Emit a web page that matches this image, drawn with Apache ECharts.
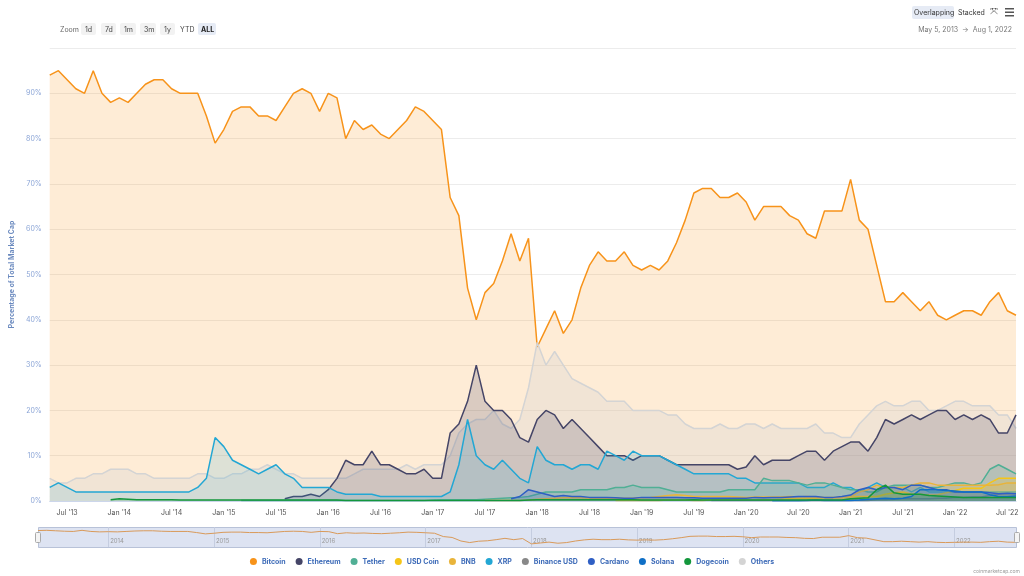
<!DOCTYPE html>
<html>
<head>
<meta charset="utf-8">
<script src="https://cdn.jsdelivr.net/npm/echarts@6/dist/echarts.min.js"></script>
<style>
  html, body { margin: 0; padding: 0; background: #fff; }
  #chart { width: 1024px; height: 576px; }
</style>
</head>
<body>
<div id="chart"></div>
<script>
// months May 2013 .. Aug 2022
var months = [];
for (var y = 2013; y <= 2022; y++) {
    for (var m = 1; m <= 12; m++) {
        if (y === 2013 && m < 5) continue;
        if (y === 2022 && m > 8) break;
        months.push(y + '-' + (m < 10 ? '0' + m : m));
    }
}
var monthNames = ['Jan', 'Feb', 'Mar', 'Apr', 'May', 'Jun', 'Jul', 'Aug', 'Sep', 'Oct', 'Nov', 'Dec'];

var bitcoin = [
    94, 95, 93, 91, 90, 95, 90, 88,
    89, 88, 90, 92, 93, 93, 91, 90, 90, 90, 85, 79,
    82, 86, 87, 87, 85, 85, 84, 87, 90, 91, 90, 86,
    90, 89, 80, 84, 82, 83, 81, 80, 82, 84, 87, 86,
    84, 82, 67, 63, 47, 40, 46, 48, 53, 59, 53, 58,
    34, 38, 42, 37, 40, 47, 52, 55, 53, 53, 55, 52,
    51, 52, 51, 53, 57, 62, 68, 69, 69, 67, 67, 68,
    66, 62, 65, 65, 65, 63, 62, 59, 58, 64, 64, 64,
    71, 62, 60, 52, 44, 44, 46, 44, 42, 44, 41, 40,
    41, 42, 42, 41, 44, 46, 42, 41
];
var ethereumStart = '2015-08';
var ethereum = [
    0.5, 1, 1, 1.5, 1,
    2.5, 5, 9, 8, 8, 11, 8, 8, 7, 6, 6, 7,
    5, 5, 15, 17, 22, 30, 22, 20, 20, 18, 14, 13,
    18, 20, 19, 16, 18, 16, 14, 12, 10, 10, 10, 9,
    10, 10, 10, 9, 8, 8, 8, 8, 8, 8, 8, 7,
    7.5, 10, 8, 9, 9, 9, 10, 11, 11, 9, 11, 12,
    13, 13, 11, 14, 18, 17, 18, 19, 18, 19, 20, 20,
    18, 19, 18, 19, 18, 15, 15, 19
];
var xrp = [
    3, 4, 3, 2, 2, 2, 2, 2,
    2, 2, 2, 2, 2, 2, 2, 2, 2, 3, 5, 14,
    12, 9, 8, 7, 6, 7, 8, 6, 5, 3, 3, 3,
    3, 2, 1.5, 1.5, 1.5, 1.5, 1, 1, 1, 1, 1, 1,
    1, 1, 2, 8, 18, 10, 8, 7, 9, 7, 5, 4,
    12, 9, 8, 8, 7, 8, 8, 7, 11, 10, 9, 11,
    10, 10, 10, 9, 8, 7, 6, 6, 6, 6, 6, 5,
    5, 4, 4, 4, 4, 4, 4, 3, 3, 3, 4, 3,
    3, 2, 3, 4, 3, 3, 3, 2, 3, 2, 2, 2,
    2, 2, 2, 2, 2, 2, 2, 2
];
var tetherStart = '2015-03';
var tether = [
    0.1, 0.1, 0.1, 0.1, 0.1, 0.1, 0.1, 0.1, 0.1, 0.1,
    0.1, 0.1, 0.1, 0.1, 0.1, 0.1, 0.1, 0.1, 0.1, 0.1, 0.1, 0.1,
    0.2, 0.3, 0.3, 0.3, 0.3, 0.3, 0.4, 0.5, 0.6, 0.7, 0.8, 1,
    1.5, 2, 2, 2, 2, 2.5, 2.5, 2.5, 2.5, 3, 3, 3.5,
    3, 3, 3, 2.5, 2, 2, 2, 2, 2, 2, 2.5, 2.5,
    2.5, 2.5, 5, 4.5, 4.5, 4.5, 4, 3.5, 4, 4, 3.5, 3,
    2.5, 2.5, 2, 2, 3, 3.5, 3.5, 3.5, 3.5, 3, 3, 3.5,
    4, 4, 3.5, 4, 7, 8, 7, 6
];
var usdcStart = '2018-10';
var usdc = [
    0.1, 0.1, 0.1,
    0.1, 0.1, 0.1, 0.2, 0.2, 0.2, 0.1, 0.1, 0.2, 0.2, 0.2, 0.2,
    0.2, 0.2, 0.3, 0.3, 0.4, 0.5, 0.5, 0.6, 0.6, 0.7, 0.7, 0.8,
    0.9, 1, 1, 1, 1.5, 1.8, 2, 1.5, 1.5, 1.3, 1.4, 1.8,
    2.3, 2.8, 2.8, 2.8, 4, 5, 5, 5
];
var bnbStart = '2017-07';
var bnb = [
    0.1, 0.1, 0.1, 0.1, 0.1, 0.2,
    0.4, 0.5, 0.6, 0.7, 0.8, 0.7, 0.6, 0.5, 0.5, 0.6, 0.6, 0.6,
    0.7, 0.8, 1, 1.2, 1.4, 1.2, 1, 1, 1, 1, 1, 0.9,
    0.8, 0.9, 0.9, 0.9, 0.9, 1, 0.9, 1, 0.9, 0.8, 0.8, 0.7,
    1, 2, 2.5, 3.5, 3, 3, 3, 3.5, 4, 4, 3.5, 3.5,
    3.5, 3.5, 3.5, 3.5, 3.5, 3.6, 4, 4
];
var busdStart = '2019-09';
var busd = [
    0.1, 0.1, 0.1, 0.1,
    0.1, 0.1, 0.1, 0.1, 0.1, 0.1, 0.1, 0.1, 0.1, 0.1, 0.1, 0.1,
    0.1, 0.1, 0.1, 0.3, 0.3, 0.4, 0.5, 0.5, 0.5, 0.5, 0.6, 0.6,
    0.8, 0.8, 0.9, 0.9, 1.2, 1.5, 1.6, 1.6
];
var cardanoStart = '2017-10';
var cardano = [
    0.5, 1, 2.5,
    2, 1.5, 1, 1.2, 1, 1, 0.8, 0.8, 0.8, 0.7, 0.6, 0.6,
    0.8, 0.8, 0.8, 0.8, 0.8, 0.7, 0.7, 0.6, 0.6, 0.6, 0.6, 0.6,
    0.6, 0.8, 0.7, 0.8, 0.8, 0.9, 1, 1, 1, 0.8, 0.8, 1,
    1.3, 2.5, 3, 2.5, 3, 3, 2.5, 3.5, 3.5, 3, 2.5, 2.5,
    2, 2, 2, 2, 1.8, 1.6, 1.7, 1.6
];
var solanaStart = '2020-04';
var solana = [
    0.05, 0.05, 0.05, 0.05, 0.1, 0.2, 0.1, 0.1, 0.1,
    0.1, 0.2, 0.4, 0.5, 0.6, 0.5, 0.6, 1, 2.5, 2.5, 2.5, 2.3,
    2.2, 2, 2, 2, 1.4, 1, 1, 1.1
];
var dogeStart = '2013-12';
var dogecoin = [
    0.3,
    0.5, 0.4, 0.3, 0.3, 0.3, 0.3, 0.3, 0.2, 0.2, 0.2, 0.2, 0.2,
    0.2, 0.2, 0.2, 0.2, 0.2, 0.2, 0.2, 0.2, 0.2, 0.2, 0.2, 0.2,
    0.2, 0.2, 0.1, 0.1, 0.1, 0.1, 0.1, 0.1, 0.1, 0.1, 0.1, 0.1,
    0.1, 0.1, 0.1, 0.1, 0.1, 0.1, 0.1, 0.1, 0.1, 0.1, 0.1, 0.2,
    0.3, 0.3, 0.3, 0.3, 0.3, 0.3, 0.3, 0.3, 0.3, 0.3, 0.3, 0.3,
    0.2, 0.2, 0.2, 0.2, 0.2, 0.2, 0.3, 0.2, 0.2, 0.2, 0.2, 0.2,
    0.2, 0.2, 0.2, 0.2, 0.2, 0.2, 0.2, 0.2, 0.2, 0.2, 0.2, 0.2,
    0.5, 0.6, 0.7, 2.5, 3.5, 1.8, 1.5, 1.5, 1.5, 1.2, 1.1, 1,
    0.9, 0.8, 0.8, 0.8, 0.8, 0.8, 0.8, 0.8
];
var others = [
    5, 4, 4, 5, 5, 6, 6, 7,
    7, 7, 6, 6, 5, 5, 5, 5, 5, 6, 6, 5,
    5, 6, 6, 7, 7, 8, 7, 6, 6, 5, 5, 5,
    5, 5, 5, 6, 7, 7, 7, 7, 7, 8, 7, 8,
    8, 8, 10, 15, 17, 18, 18, 20, 17, 16, 18, 25,
    35, 30, 33, 30, 27, 26, 25, 24, 22, 22, 22, 20,
    20, 20, 20, 19, 19, 17, 16, 16, 16, 17, 16, 16,
    17, 17, 16, 17, 16, 16, 16, 16, 17, 15, 15, 14,
    14, 17, 19, 21, 22, 21, 21, 22, 22, 20, 20, 21,
    22, 22, 21, 21, 21, 19, 19, 16
];
var sliderYears = ['2014', '2015', '2016', '2017', '2018', '2019', '2020', '2021', '2022'];

function pad(start, values) {
    var idx = months.indexOf(start);
    var out = [];
    for (var i = 0; i < idx; i++) out.push(null);
    return out.concat(values);
}

function makeSeries(name, color, data, opacity, z) {
    return {
        name: name,
        type: 'line',
        color: color,
        data: data,
        showSymbol: false,
        z: z,
        lineStyle: { width: 1.5, color: color },
        areaStyle: { color: color, opacity: opacity }
    };
}

var chart = echarts.init(document.getElementById('chart'));
window.onresize = function () {
    chart.resize();
};

var seriesList = [
    makeSeries('Bitcoin', '#f7931a', bitcoin, 0.18, 2),
    makeSeries('Others', '#d4d4d4', others, 0.3, 3),
    makeSeries('Ethereum', '#454567', pad(ethereumStart, ethereum), 0.2, 4),
    makeSeries('XRP', '#23a7d4', xrp, 0.15, 5),
    makeSeries('Tether', '#50af95', pad(tetherStart, tether), 0.2, 6),
    makeSeries('USD Coin', '#f5c518', pad(usdcStart, usdc), 0.2, 6),
    makeSeries('BNB', '#e9b43a', pad(bnbStart, bnb), 0.2, 6),
    makeSeries('Binance USD', '#888888', pad(busdStart, busd), 0.2, 6),
    makeSeries('Cardano', '#2f5fc4', pad(cardanoStart, cardano), 0.2, 7),
    makeSeries('Solana', '#0f6fc6', pad(solanaStart, solana), 0.2, 7),
    makeSeries('Dogecoin', '#13973c', pad(dogeStart, dogecoin), 0.2, 7)
];

// overview line under the slider, drawn on its own small grid
seriesList.push({
    name: 'nav',
    type: 'line',
    xAxisIndex: 1,
    yAxisIndex: 1,
    data: bitcoin,
    showSymbol: false,
    silent: true,
    lineStyle: { width: 1, color: '#d99a5a' },
    z: 10
});

var yearTicks = [];
for (var i = 0; i < sliderYears.length; i++) {
    yearTicks.push(months.indexOf(sliderYears[i] + '-01'));
}

var option = {
    animation: false,
    textStyle: { fontFamily: 'Inter, "Noto Sans", sans-serif' },
    grid: [
        { left: 38, right: 8, top: 48, bottom: 75 },
        { left: 38, right: 8, top: 527, height: 20 }
    ],
    xAxis: [{
        type: 'category',
        data: months,
        boundaryGap: false,
        axisLine: { lineStyle: { color: '#ccd6eb' } },
        axisTick: { show: false },
        axisLabel: {
            color: '#555',
            fontSize: 7,
            interval: function (i, v) {
                var mm = v.slice(5);
                return mm === '01' || mm === '07';
            },
            formatter: function (v) {
                return monthNames[parseInt(v.slice(5), 10) - 1] + " '" + v.slice(2, 4);
            }
        },
        splitLine: { show: false }
    }, {
        type: 'category',
        gridIndex: 1,
        data: months,
        boundaryGap: false,
        axisLine: { show: false },
        axisTick: { show: false },
        axisLabel: {
            inside: true,
            color: '#999',
            fontSize: 6,
            align: 'left',
            margin: 3,
            interval: function (i) { return yearTicks.indexOf(i) >= 0; },
            formatter: function (v) { return ' ' + v.slice(0, 4); }
        },
        splitLine: {
            show: true,
            interval: function (i) { return yearTicks.indexOf(i) >= 0; },
            lineStyle: { color: '#c5cde0' }
        }
    }],
    yAxis: [{
        type: 'value',
        min: 0,
        max: 100,
        interval: 10,
        name: 'Percentage of Total Market Cap',
        nameLocation: 'middle',
        nameGap: 24,
        nameTextStyle: { color: '#6b8abf', fontSize: 7, fontWeight: 'bold' },
        axisLabel: {
            color: '#8aa4d6',
            fontSize: 7,
            formatter: function (v) { return v === 100 ? '' : v + '%'; }
        },
        splitLine: { lineStyle: { color: '#ececec' } }
    }, {
        type: 'value',
        gridIndex: 1,
        min: 20,
        max: 110,
        show: false
    }],
    legend: {
        bottom: 6,
        left: 'center',
        icon: 'circle',
        itemWidth: 7,
        itemHeight: 7,
        itemGap: 10,
        textStyle: { color: '#3d6bb8', fontSize: 7, fontWeight: 'bold' },
        data: ['Bitcoin', 'Ethereum', 'Tether', 'USD Coin', 'BNB', 'XRP', 'Binance USD', 'Cardano', 'Solana', 'Dogecoin', 'Others']
    },
    graphic: [
        { type: 'rect', left: 38, top: 527, z: 0, shape: { width: 978, height: 20 }, style: { fill: '#dde3f2', stroke: '#b8c2d8' } },
        { type: 'rect', left: 35, top: 532, z: 100, shape: { width: 5, height: 10, r: 1 }, style: { fill: '#f4f4f4', stroke: '#aaa' } },
        { type: 'rect', left: 1014, top: 532, z: 100, shape: { width: 5, height: 10, r: 1 }, style: { fill: '#f4f4f4', stroke: '#aaa' } },
        { type: 'text', left: 60, top: 26, style: { text: 'Zoom', fill: '#666', font: '7px Inter' } },
        { type: 'rect', left: 81, top: 23, shape: { width: 15, height: 12, r: 2 }, style: { fill: '#f2f2f2' } },
        { type: 'text', left: 85, top: 26, style: { text: '1d', fill: '#444', font: '7px Inter' } },
        { type: 'rect', left: 101, top: 23, shape: { width: 15, height: 12, r: 2 }, style: { fill: '#f2f2f2' } },
        { type: 'text', left: 105, top: 26, style: { text: '7d', fill: '#444', font: '7px Inter' } },
        { type: 'rect', left: 120, top: 23, shape: { width: 16, height: 12, r: 2 }, style: { fill: '#f2f2f2' } },
        { type: 'text', left: 124, top: 26, style: { text: '1m', fill: '#444', font: '7px Inter' } },
        { type: 'rect', left: 140, top: 23, shape: { width: 16, height: 12, r: 2 }, style: { fill: '#f2f2f2' } },
        { type: 'text', left: 144, top: 26, style: { text: '3m', fill: '#444', font: '7px Inter' } },
        { type: 'rect', left: 160, top: 23, shape: { width: 15, height: 12, r: 2 }, style: { fill: '#f2f2f2' } },
        { type: 'text', left: 164, top: 26, style: { text: '1y', fill: '#444', font: '7px Inter' } },
        { type: 'text', left: 180, top: 26, style: { text: 'YTD', fill: '#444', font: '7px Inter' } },
        { type: 'rect', left: 198, top: 23, shape: { width: 18, height: 12, r: 2 }, style: { fill: '#e6ebf5' } },
        { type: 'text', left: 201, top: 26, style: { text: 'ALL', fill: '#222', font: 'bold 7px Inter' } },
        { type: 'rect', left: 912, top: 6, shape: { width: 42, height: 13, r: 2 }, style: { fill: '#e6ebf5' } },
        { type: 'text', left: 914, top: 9, style: { text: 'Overlapping', fill: '#333', font: '7px Inter' } },
        { type: 'text', left: 958, top: 9, style: { text: 'Stacked', fill: '#333', font: '7px Inter' } },
        { type: 'text', left: 990, top: 7, style: { text: '⤧', fill: '#555', font: '10px DejaVu Sans' } },
        { type: 'rect', left: 1005, top: 8, shape: { width: 9, height: 1.5 }, style: { fill: '#555' } },
        { type: 'rect', left: 1005, top: 11.5, shape: { width: 9, height: 1.5 }, style: { fill: '#555' } },
        { type: 'rect', left: 1005, top: 15, shape: { width: 9, height: 1.5 }, style: { fill: '#555' } },
        { type: 'text', right: 12, top: 26, style: { text: 'May 5, 2013  →  Aug 1, 2022', fill: '#777', font: '7px Inter' } },
        { type: 'text', right: 4, bottom: 2, style: { text: 'coinmarketcap.com', fill: '#999', font: '5px Inter' } }
    ],
    series: seriesList
};
chart.setOption(option);
</script>
</body>
</html>
